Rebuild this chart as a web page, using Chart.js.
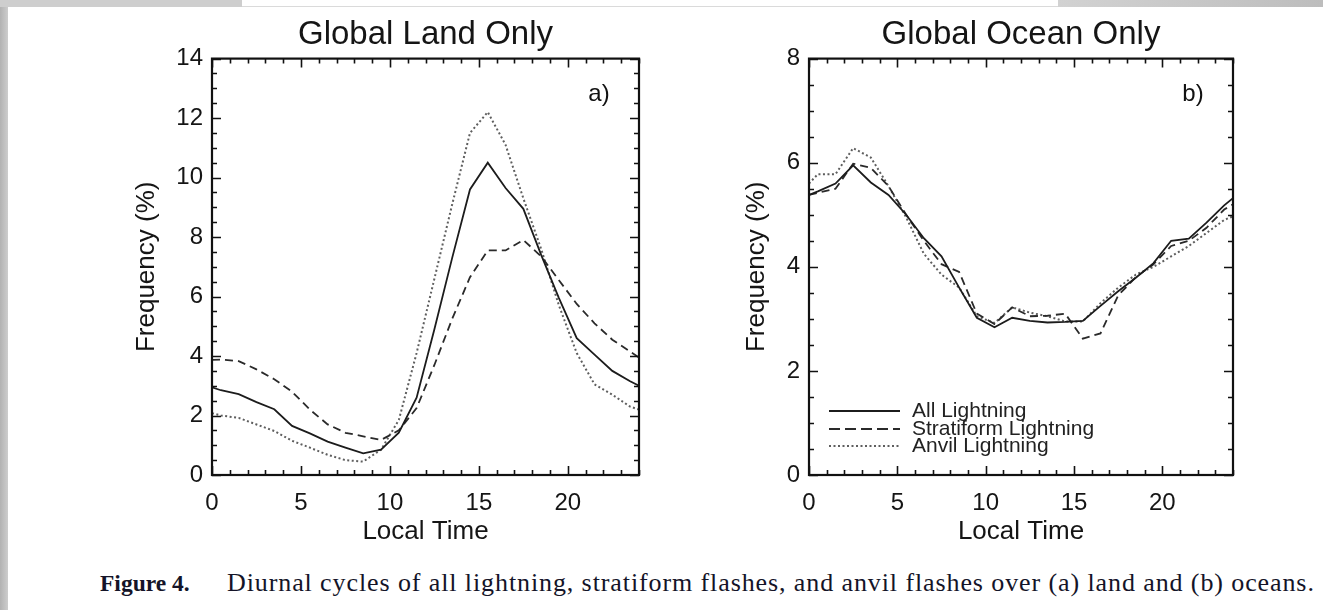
<!DOCTYPE html>
<html>
<head>
<meta charset="utf-8">
<script src="https://cdn.jsdelivr.net/npm/chart.js@4.4.1/dist/chart.umd.min.js"></script>
<style>
html,body{margin:0;padding:0;background:#fff;}
body{width:1323px;height:610px;overflow:hidden;position:relative;font-family:"Liberation Sans",Arial,sans-serif;}
#gl{position:absolute;left:0;top:0;width:8px;height:610px;background:linear-gradient(to right,#b2b2b2,#cdcdcd);}
#gt1{position:absolute;left:0;top:0;width:242px;height:7px;background:#cecece;}
#gt2{position:absolute;left:1058px;top:0;width:265px;height:7px;background:linear-gradient(to right,#d2d2d2,#bdbdbd);}
#gline{position:absolute;left:242px;top:6px;width:816px;height:1px;background:#dadada;}
canvas{position:absolute;top:0;}
#c1{left:110px;}
#c2{left:707px;}
#cap{position:absolute;left:100px;top:567px;font-family:"Liberation Serif","Times New Roman",serif;font-size:26px;line-height:32px;white-space:nowrap;color:#141428;letter-spacing:0.9px;}
#cap b{font-size:23.5px;letter-spacing:0;display:inline-block;width:127px;}
</style>
</head>
<body>
<div id="gl"></div><div id="gt1"></div><div id="gt2"></div><div id="gline"></div>
<canvas id="c1" width="631" height="550"></canvas>
<canvas id="c2" width="628" height="550"></canvas>
<div id="cap"><b>Figure 4.</b>Diurnal cycles of all lightning, stratiform flashes, and anvil flashes over (a) land and (b) oceans.</div>
<script>
// ---- data (local time in hours, frequency in %) ----
const hours = [0, 0.5, 1.5, 2.5, 3.5, 4.5, 5.5, 6.5, 7.5, 8.5, 9.5, 10.5, 11.5, 12.5, 13.5, 14.5, 15.5, 16.5, 17.5, 18.5, 19.5, 20.5, 21.5, 22.5, 23.5, 24];

const landAll   = [2.95, 2.85, 2.72, 2.45, 2.21, 1.65, 1.40, 1.12, 0.92, 0.73, 0.85, 1.42, 2.60, 4.90, 7.30, 9.60, 10.50, 9.65, 8.95, 7.40, 5.95, 4.60, 4.05, 3.50, 3.15, 3.00];
const landStrat = [3.87, 3.88, 3.83, 3.55, 3.22, 2.80, 2.20, 1.70, 1.42, 1.30, 1.18, 1.50, 2.25, 3.70, 5.25, 6.65, 7.55, 7.55, 7.90, 7.35, 6.55, 5.75, 5.10, 4.55, 4.15, 3.95];
const landAnvil = [2.08, 2.00, 1.92, 1.70, 1.48, 1.15, 0.92, 0.68, 0.50, 0.45, 0.85, 1.85, 4.10, 6.60, 9.10, 11.50, 12.20, 11.10, 9.30, 7.60, 5.70, 4.10, 3.05, 2.70, 2.30, 2.20];

const oceanAll   = [5.38, 5.45, 5.60, 5.95, 5.62, 5.38, 5.00, 4.55, 4.20, 3.60, 3.02, 2.84, 3.02, 2.96, 2.93, 2.94, 2.96, 3.25, 3.53, 3.79, 4.07, 4.50, 4.54, 4.85, 5.18, 5.32];
const oceanStrat = [5.38, 5.42, 5.50, 5.98, 5.90, 5.55, 5.00, 4.50, 4.05, 3.90, 3.10, 2.90, 3.22, 3.05, 3.06, 3.10, 2.62, 2.72, 3.45, 3.80, 4.05, 4.40, 4.50, 4.75, 5.10, 5.20];
const oceanAnvil = [5.60, 5.78, 5.78, 6.28, 6.10, 5.55, 4.95, 4.25, 3.85, 3.60, 3.05, 2.92, 3.22, 3.12, 3.05, 2.95, 2.95, 3.30, 3.60, 3.85, 4.00, 4.20, 4.40, 4.65, 4.90, 4.97];

const seriesNames = ['All Lightning', 'Stratiform Lightning', 'Anvil Lightning'];
const xTickValues = [0, 5, 10, 15, 20];
const panelTitles = ['Global Land Only', 'Global Ocean Only'];
const panelLabels = ['a)', 'b)'];
const yMaxes = [14, 8];

// ---- styles ----
const styles = [
  {color:'#1c1c1c', width:1.8, dash:[]},
  {color:'#2a2a2a', width:1.8, dash:[8,5]},
  {color:'#5e5e5e', width:2.0, dash:[2,2.5]}
];
const FONT = "'Liberation Sans', Arial, sans-serif";

const framePlugin = {
  id: 'frame',
  afterDraw(chart, args, opts) {
    const {ctx, chartArea: a, scales: {x, y}} = chart;
    ctx.save();
    ctx.strokeStyle = '#111';
    ctx.lineCap = 'butt';
    ctx.lineWidth = 1.6;
    ctx.beginPath();
    for (let v = 0; v <= 24; v += 1) {
      const px = Math.round(x.getPixelForValue(v)) + 0.5;
      const L = (v % 5 === 0) ? 9 : 5;
      ctx.moveTo(px, a.bottom); ctx.lineTo(px, a.bottom - L);
      ctx.moveTo(px, a.top); ctx.lineTo(px, a.top + L);
    }
    for (let v = 0; v <= y.max + 1e-9; v += 0.5) {
      const py = Math.round(y.getPixelForValue(v)) + 0.5;
      const L = (Math.abs(v % 2) < 1e-9) ? 9 : 5;
      ctx.moveTo(a.left, py); ctx.lineTo(a.left + L, py);
      ctx.moveTo(a.right, py); ctx.lineTo(a.right - L, py);
    }
    ctx.stroke();
    ctx.lineWidth = 2.2;
    ctx.strokeRect(a.left, a.top, a.right - a.left, a.bottom - a.top);
    ctx.fillStyle = '#111';
    ctx.font = '24px ' + FONT;
    ctx.textAlign = 'center';
    ctx.textBaseline = 'middle';
    ctx.fillText(opts.label, a.right - 40, a.top + 36);
    if (opts.legend) {
      ctx.textAlign = 'left';
      ctx.font = '21px ' + FONT;
      const rows = [-64, -46, -29];
      chart.data.datasets.forEach((ds, i) => {
        const yy = a.bottom + rows[i];
        ctx.save();
        ctx.strokeStyle = ds.borderColor;
        ctx.lineWidth = ds.borderWidth;
        ctx.setLineDash(i === 1 ? [11,5] : ds.borderDash);
        ctx.beginPath();
        ctx.moveTo(a.left + 20, yy); ctx.lineTo(a.left + 91, yy);
        ctx.stroke();
        ctx.restore();
        ctx.fillStyle = '#222';
        ctx.fillText(ds.label, a.left + 103, yy);
      });
    }
    ctx.restore();
  }
};

function makeChart(id, idx, all, strat, anvil, yTitlePad) {
  const vals = [all, strat, anvil];
  const datasets = vals.map((arr, i) => ({
    label: seriesNames[i],
    data: hours.map((h, k) => ({x: h, y: arr[k]})),
    borderColor: styles[i].color,
    borderWidth: styles[i].width,
    borderDash: styles[i].dash,
    pointRadius: 0,
    tension: 0,
    fill: false,
    yAxisID: 'y'
  }));
  return new Chart(document.getElementById(id), {
    type: 'line',
    data: {datasets},
    plugins: [framePlugin],
    options: {
      responsive: false,
      animation: false,
      layout: {padding: 0},
      plugins: {
        legend: {display: false},
        tooltip: {enabled: false},
        title: {
          display: true, text: panelTitles[idx], color: '#151515',
          font: {family: FONT, size: 33, weight: 'normal', lineHeight: 1.2},
          padding: {top: 15, bottom: 4}
        },
        frame: {label: panelLabels[idx], legend: idx === 1}
      },
      scales: {
        x: {
          type: 'linear', min: 0, max: 24,
          afterBuildTicks: (s) => { s.ticks = xTickValues.map(v => ({value: v})); },
          ticks: {color: '#151515', font: {family: FONT, size: 24}, padding: 14, maxRotation: 0, autoSkip: false},
          grid: {display: false, drawTicks: false},
          border: {display: false},
          title: {display: true, text: 'Local Time', color: '#151515', font: {family: FONT, size: 26, lineHeight: 1.2}, padding: {top: 0, bottom: 3}},
          afterFit: (s) => { s.height = 75; }
        },
        y: {
          type: 'linear', position: 'left', min: 0, max: yMaxes[idx],
          ticks: {stepSize: 2, color: '#151515', font: {family: FONT, size: 24}, padding: 9},
          grid: {display: false, drawTicks: false},
          border: {display: false},
          title: {display: true, text: 'Frequency (%)', color: '#151515', font: {family: FONT, size: 26, lineHeight: 1.2}, padding: {top: yTitlePad, bottom: 0}},
          afterFit: (s) => { s.width = 102; }
        },
        yr: {
          type: 'linear', position: 'right', min: 0, max: yMaxes[idx],
          ticks: {display: false},
          grid: {display: false, drawTicks: false},
          border: {display: false},
          afterFit: (s) => { s.width = 102; }
        }
      }
    }
  });
}

makeChart('c1', 0, landAll, landStrat, landAnvil, 21);
makeChart('c2', 1, oceanAll, oceanStrat, oceanAnvil, 34);
</script>
</body>
</html>
